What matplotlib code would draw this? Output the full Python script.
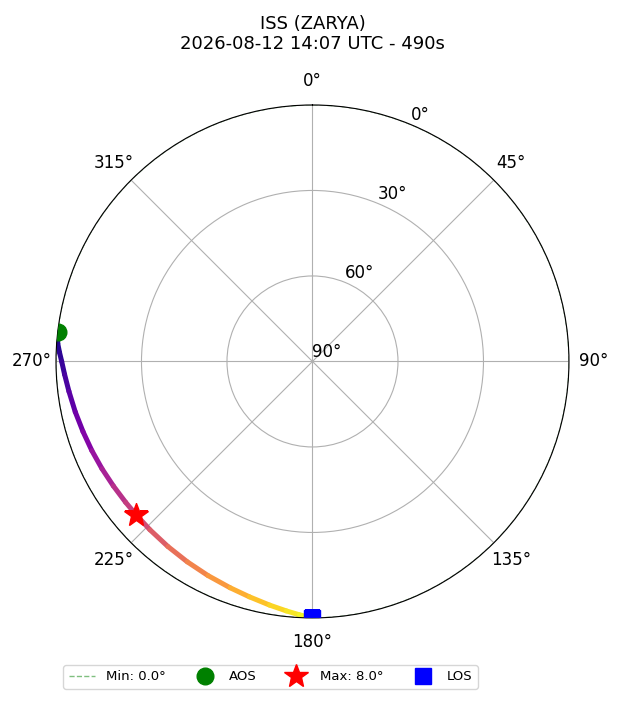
import numpy as np
import matplotlib
matplotlib.use('agg')
import matplotlib.pyplot as plt
from matplotlib.collections import LineCollection
from matplotlib.lines import Line2D

sat_name = "ISS (ZARYA)"
pass_start = "2026-08-12 14:07 UTC"
duration_s = 490
min_el = 0.0

# pass track (azimuth deg, elevation deg, seconds from AOS)
track_az = [276.5, 274, 272, 270, 267, 263, 258, 253, 248, 243, 238, 233, 229,
            224, 218, 212, 206, 200, 195, 190, 186, 183, 180]
track_el = [0.0, 0.4, 1.2, 2.0, 2.9, 3.9, 4.9, 5.8, 6.5, 7.1, 7.6, 7.9, 8.0,
            7.9, 7.6, 7.1, 6.4, 5.5, 4.5, 3.2, 2.0, 1.0, 0.0]
track_t = [0, 13, 23, 33, 48, 69, 94, 119, 145, 170, 196, 221, 241,
           267, 297, 328, 358, 388, 414, 439, 460, 475, 490]

aos = (276.5, 0.0)
peak = (229.0, 8.0)
los = (180.0, 0.0)

fig = plt.figure(figsize=(6.2, 7.02), dpi=100)
ax = fig.add_axes([0.0903, 0.1197, 0.8274, 0.7308], projection='polar')
ax.set_theta_zero_location('N')
ax.set_theta_direction(-1)
ax.set_rlim(0, 90)
ax.set_rticks([0, 30, 60, 90])
ax.set_yticklabels(['90°', '60°', '30°', '0°'], fontsize=12)
ax.set_rlabel_position(22.5)
ax.set_thetagrids(range(0, 360, 45), ['0°', '45°', '90°', '135°', '180°', '225°', '270°', '315°'], fontsize=12)
ax.tick_params(axis='x', pad=7)
ax.grid(True)

th = np.radians(track_az)
r = 90 - np.array(track_el)
pts = np.column_stack([th, r]).reshape(-1, 1, 2)
segs = np.concatenate([pts[:-1], pts[1:]], axis=1)
lc = LineCollection(segs, cmap='plasma', linewidth=3.6, capstyle='round')
lc.set_array(np.array(track_t[:-1]) / 2 + np.array(track_t[1:]) / 2)
lc.set_clim(0, duration_s)
ax.add_collection(lc)

circ = np.linspace(0, 2 * np.pi, 361)
ax.plot(circ, np.full_like(circ, 90 - min_el), '--', color='green', alpha=0.5, lw=1, zorder=1)
ax.plot(np.radians(aos[0]), 90 - aos[1], 'o', color='green', markersize=12, zorder=5)
ax.plot(np.radians(peak[0]), 90 - peak[1], '*', color='red', markersize=18, zorder=5)
ax.plot(np.radians(los[0]), 90 - los[1], 's', color='blue', markersize=12, zorder=5)

ax.set_title("{}\n{} - {}s".format(sat_name, pass_start, duration_s), fontsize=13, pad=40)

handles = [
    Line2D([], [], ls='--', color='green', alpha=0.5, lw=1),
    Line2D([], [], ls='', marker='o', color='green', markersize=12),
    Line2D([], [], ls='', marker='*', color='red', markersize=18),
    Line2D([], [], ls='', marker='s', color='blue', markersize=12),
]
labels = ["Min: {:.1f}°".format(min_el), "AOS", "Max: {:.1f}°".format(peak[1]), "LOS"]
fig.legend(handles, labels, loc='center', bbox_to_anchor=(270.5 / 620, 1 - 677 / 702),
           ncol=4, fontsize=9.5)

fig.savefig("out.png", dpi=100)
